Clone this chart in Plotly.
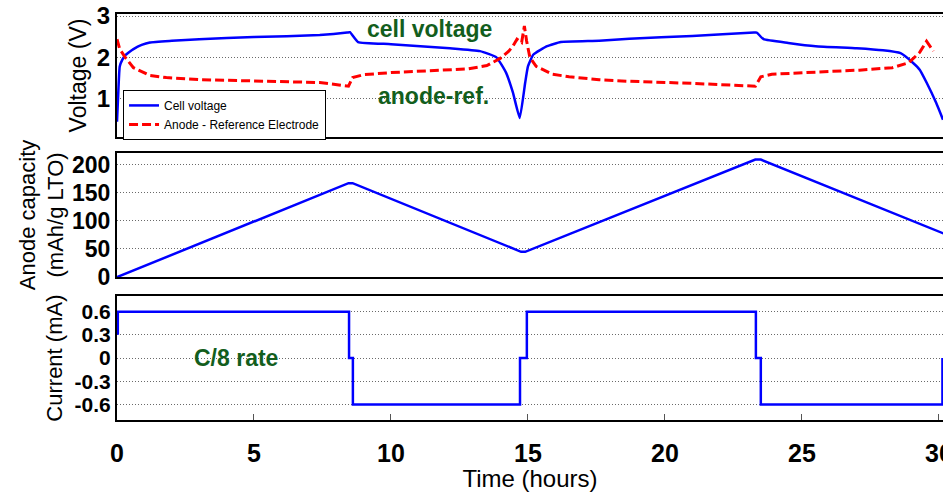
import plotly.graph_objects as go

# ---------------- data ----------------
cell_t = [0, 0.05, 0.1, 0.2, 0.3, 0.45, 0.6, 0.9, 1.2, 2.0, 3.0, 5.0, 7.4, 8.4, 8.5,
          8.8, 10.0, 12.15, 13.25, 13.85, 14.2, 14.45, 14.7, 14.9, 15.0, 15.2, 15.7,
          16.2, 17.6, 18.7, 21.0, 23.25, 23.35, 23.6, 24.5, 25.5, 27.0, 27.96, 28.6,
          29.05, 29.3, 29.55, 29.9, 30.15]
cell_v = [0.44, 1.2, 1.78, 1.95, 2.05, 2.13, 2.2, 2.3, 2.36, 2.4, 2.44, 2.49, 2.54, 2.6, 2.61,
          2.37, 2.32, 2.22, 2.15, 2.0, 1.63, 1.15, 0.53, 1.39, 1.78, 2.07, 2.27,
          2.37, 2.4, 2.45, 2.52, 2.6, 2.6, 2.44, 2.35, 2.27, 2.22, 2.17, 2.1,
          1.87, 1.7, 1.39, 0.9, 0.49]

anode_t = [0, 0.1, 0.3, 0.6, 1.2, 1.8, 3.0, 5.2, 7.4, 8.1, 8.45, 8.6, 9.0, 10.0, 11.5,
           12.8, 13.5, 14.0, 14.3, 14.45, 14.6, 14.72, 14.77, 14.87, 14.95, 15.07, 15.3,
           15.9, 16.5, 17.6, 18.7, 21.0, 23.2, 23.3, 23.5, 23.9, 26.1, 27.1, 28.3, 28.9,
           29.3, 29.55, 29.8]
anode_v = [2.44, 2.2, 2.0, 1.75, 1.56, 1.51, 1.46, 1.42, 1.39, 1.33, 1.3, 1.51, 1.58, 1.63, 1.68,
           1.72, 1.8, 1.98, 2.15, 2.27, 2.44, 2.38, 2.36, 2.76, 2.4, 2.0, 1.78,
           1.59, 1.53, 1.46, 1.42, 1.37, 1.3, 1.3, 1.53, 1.59, 1.66, 1.69, 1.75, 1.87,
           2.12, 2.39, 2.15]

cap_t = [0, 8.45, 8.6, 14.75, 14.9, 23.3, 23.5, 30.2]
cap_v = [0, 167, 167, 45, 45, 209, 209, 77]

cur_t = [0.03, 0.03, 8.47, 8.61, 14.71, 14.96, 23.32, 23.5, 30.13]
cur_v = [0.3, 0.6, 0, -0.6, 0, 0.6, 0, -0.6, 0]

x_ticks = [0, 5, 10, 15, 20, 25, 30]
x_ticktext = ["0", "5", "10", "15", "20", "25", "30"]
v_ticks = [1, 2, 3]
v_ticktext = ["1", "2", "3"]
cap_ticks = [0, 50, 100, 150, 200]
cap_ticktext = ["0", "50", "100", "150", "200"]
cur_ticks = [0.6, 0.3, 0, -0.3, -0.6]
cur_ticktext = ["0.6", "0.3", "0", "-0.3", "-0.6"]

# ---------------- figure ----------------
FONT = "Liberation Sans, Arial, sans-serif"
BLUE = "#0000ff"
RED = "#ff0000"
GREEN = "#135e1d"

fig = go.Figure()
fig.add_trace(go.Scatter(x=cell_t, y=cell_v, mode="lines", name="Cell voltage",
                         line=dict(color=BLUE, width=2.5, shape="spline", smoothing=0.4),
                         xaxis="x", yaxis="y"))
fig.add_trace(go.Scatter(x=anode_t, y=anode_v, mode="lines", name="Anode - Reference Electrode",
                         line=dict(color=RED, width=3, dash="9px,4px"),
                         xaxis="x", yaxis="y"))
fig.add_trace(go.Scatter(x=cap_t, y=cap_v, mode="lines", showlegend=False,
                         line=dict(color=BLUE, width=2.5), xaxis="x2", yaxis="y2"))
fig.add_trace(go.Scatter(x=cur_t, y=cur_v, mode="lines", showlegend=False,
                         line=dict(color=BLUE, width=2.5, shape="hv"), xaxis="x3", yaxis="y3"))

XR = [0, 30.15]
grid = dict(showgrid=True, gridcolor="#6a6a6a", gridwidth=1, griddash="1px,2px",
            zeroline=False, showline=True, linecolor="black", linewidth=2, mirror=True,
            ticks="", automargin=False)
xbase = dict(range=XR, showgrid=False, zeroline=False, showline=True, linecolor="black",
             linewidth=2, mirror=True, automargin=False)

fig.update_layout(
    width=943, height=492,
    margin=dict(l=117, r=0, t=14, b=72),
    paper_bgcolor="white", plot_bgcolor="white",
    showlegend=True,
    xaxis=dict(**xbase, domain=[0, 1], anchor="y", showticklabels=False, ticks=""),
    xaxis2=dict(**xbase, domain=[0, 1], anchor="y2", matches="x", showticklabels=False, ticks=""),
    xaxis3=dict(**xbase, domain=[0, 1], anchor="y3", matches="x",
                tickvals=x_ticks, ticktext=x_ticktext, ticks="inside", ticklen=6,
                tickcolor="#555", tickwidth=1, ticklabelstandoff=10,
                ticklabeloverflow="allow",
                tickfont=dict(family=FONT, size=25, color="black", weight="bold"),
                title=dict(text="Time (hours)", font=dict(family=FONT, size=24, color="black"),
                           standoff=6)),
    yaxis=dict(**grid, domain=[0.697, 1], range=[0.07, 3.05], tickvals=v_ticks,
               ticktext=v_ticktext,
               tickfont=dict(family=FONT, size=24, color="black", weight="bold"),
               title=dict(text="Voltage (V)", font=dict(family=FONT, size=23, color="black"),
                          standoff=4)),
    yaxis2=dict(**grid, domain=[0.352, 0.658], range=[0, 221], tickvals=cap_ticks,
                ticktext=cap_ticktext,
                tickfont=dict(family=FONT, size=23, color="black", weight="bold"),
                title=dict(text="Anode capacity<br>(mAh/g LTO)",
                           font=dict(family=FONT, size=22, color="black"), standoff=2)),
    yaxis3=dict(**grid, domain=[0, 0.305], range=[-0.8, 0.8], tickvals=cur_ticks,
                ticktext=cur_ticktext,
                tickfont=dict(family=FONT, size=21, color="black", weight="bold"),
                title=dict(text="Current (mA)", font=dict(family=FONT, size=22, color="black"),
                           standoff=6)),
    legend=dict(x=0.0073, y=0.813, xanchor="left", yanchor="top",
                bgcolor="white", bordercolor="black", borderwidth=1,
                font=dict(family=FONT, size=12, color="black"),
                tracegroupgap=0, itemwidth=30),
    annotations=[
        dict(text="cell voltage", x=11.4, y=2.68, xref="x", yref="y", showarrow=False,
             font=dict(family=FONT, size=23, color=GREEN, weight="bold")),
        dict(text="anode-ref.", x=11.55, y=1.07, xref="x", yref="y", showarrow=False,
             font=dict(family=FONT, size=23, color=GREEN, weight="bold")),
        dict(text="C/8 rate", x=4.35, y=0.0, xref="x3", yref="y3", showarrow=False,
             font=dict(family=FONT, size=23, color=GREEN, weight="bold")),
    ],
)

fig.write_html("out.html")
